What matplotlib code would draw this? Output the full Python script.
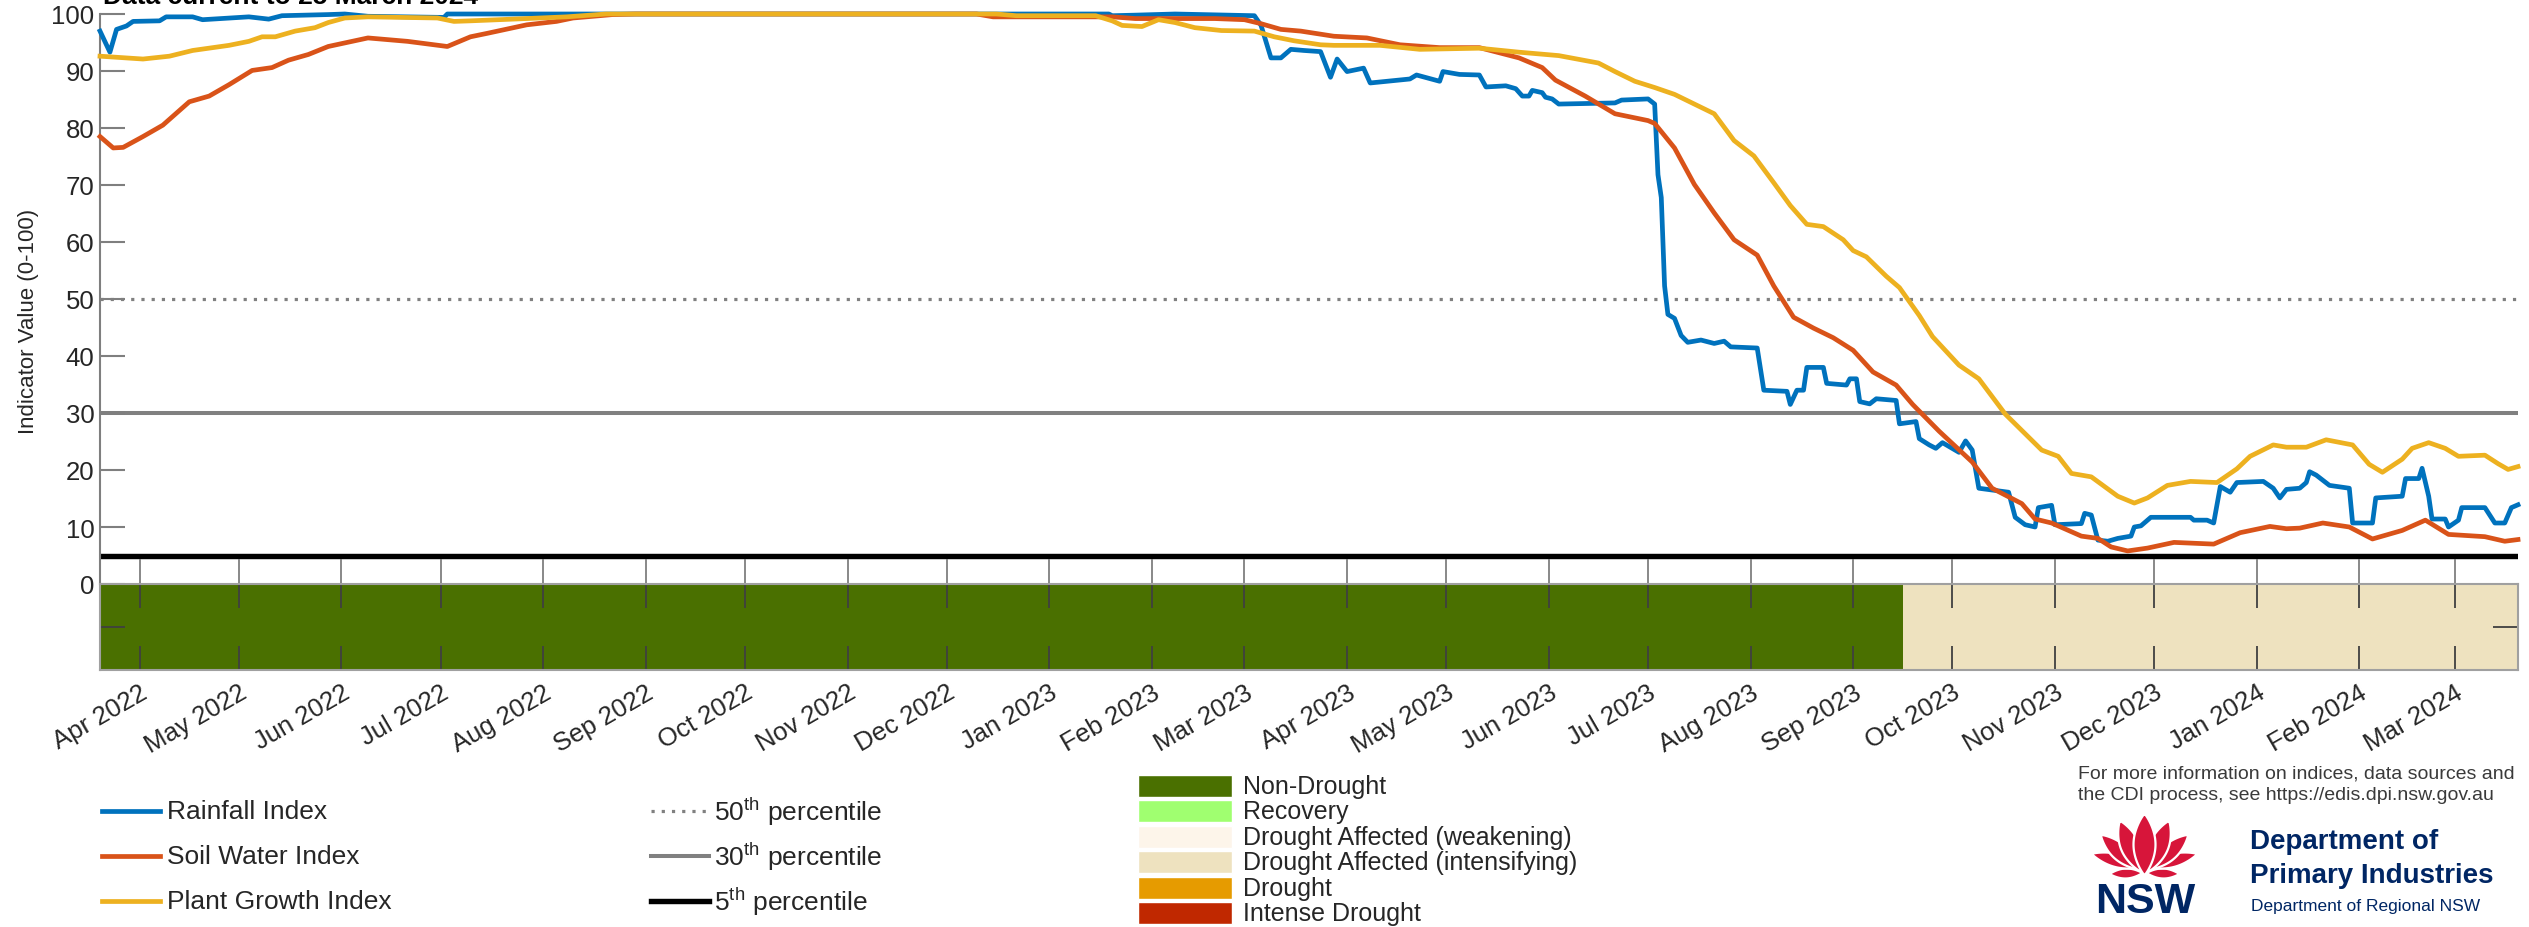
import numpy as np
import matplotlib
matplotlib.use("Agg")
import matplotlib.pyplot as plt
import matplotlib.dates as mdates
from matplotlib.lines import Line2D
from matplotlib.patches import Rectangle, Polygon

plt.rcParams['font.family'] = ['Liberation Sans', 'DejaVu Sans']
plt.rcParams['mathtext.fontset'] = 'custom'
plt.rcParams['mathtext.rm'] = 'Liberation Sans'

# --------------------------------------------------------------------------
# data
# --------------------------------------------------------------------------
rain_dates = [
    '2022-03-20', '2022-03-23', '2022-03-25', '2022-03-28', '2022-03-30', '2022-04-07',
    '2022-04-09', '2022-04-17', '2022-04-20', '2022-05-04', '2022-05-10', '2022-05-14',
    '2022-05-28', '2022-06-02', '2022-06-09', '2022-07-02', '2022-07-03', '2023-01-19',
    '2023-01-20', '2023-01-27', '2023-02-08', '2023-03-04', '2023-03-06', '2023-03-09',
    '2023-03-12', '2023-03-15', '2023-03-19', '2023-03-24', '2023-03-27', '2023-03-29',
    '2023-04-01', '2023-04-06', '2023-04-08', '2023-04-20', '2023-04-22', '2023-04-29',
    '2023-04-30', '2023-05-05', '2023-05-11', '2023-05-13', '2023-05-19', '2023-05-22',
    '2023-05-24', '2023-05-26', '2023-05-27', '2023-05-30', '2023-05-31', '2023-06-02',
    '2023-06-04', '2023-06-21', '2023-06-23', '2023-07-01', '2023-07-03', '2023-07-04',
    '2023-07-05', '2023-07-06', '2023-07-07', '2023-07-09', '2023-07-11', '2023-07-13',
    '2023-07-17', '2023-07-21', '2023-07-24', '2023-07-26', '2023-08-03', '2023-08-05',
    '2023-08-12', '2023-08-13', '2023-08-15', '2023-08-17', '2023-08-18', '2023-08-23',
    '2023-08-24', '2023-08-30', '2023-08-31', '2023-09-02', '2023-09-03', '2023-09-06',
    '2023-09-08', '2023-09-14', '2023-09-15', '2023-09-20', '2023-09-21', '2023-09-24',
    '2023-09-26', '2023-09-28', '2023-10-03', '2023-10-05', '2023-10-07', '2023-10-09',
    '2023-10-18', '2023-10-20', '2023-10-23', '2023-10-26', '2023-10-27', '2023-10-31',
    '2023-11-01', '2023-11-09', '2023-11-10', '2023-11-12', '2023-11-14', '2023-11-17',
    '2023-11-20', '2023-11-24', '2023-11-25', '2023-11-27', '2023-11-30', '2023-12-12',
    '2023-12-13', '2023-12-17', '2023-12-19', '2023-12-21', '2023-12-24', '2023-12-26',
    '2024-01-03', '2024-01-06', '2024-01-08', '2024-01-10', '2024-01-14', '2024-01-16',
    '2024-01-17', '2024-01-19', '2024-01-23', '2024-01-29', '2024-01-30', '2024-02-05',
    '2024-02-06', '2024-02-14', '2024-02-15', '2024-02-19', '2024-02-20', '2024-02-22',
    '2024-02-23', '2024-02-27', '2024-02-28', '2024-03-02', '2024-03-03', '2024-03-10',
    '2024-03-13', '2024-03-16', '2024-03-18', '2024-03-20',
]
rain_values = [
    97.0, 93.3, 97.3, 97.9, 98.7, 98.8,
    99.5, 99.5, 99.0, 99.5, 99.1, 99.7,
    99.9, 100, 99.6, 99.4, 100, 100,
    99.7, 99.8, 100, 99.7, 98.0, 92.3,
    92.3, 93.8, 93.6, 93.4, 88.9, 92.1,
    89.9, 90.5, 87.9, 88.6, 89.3, 88.2,
    89.9, 89.4, 89.3, 87.2, 87.4, 86.9,
    85.6, 85.6, 86.6, 86.2, 85.4, 85.1,
    84.2, 84.4, 84.9, 85.1, 84.2, 71.8,
    67.8, 52.3, 47.3, 46.6, 43.6, 42.4,
    42.8, 42.2, 42.6, 41.6, 41.4, 34.0,
    33.8, 31.5, 34.0, 34.0, 38.0, 38.0,
    35.2, 34.9, 36.0, 36.0, 32.0, 31.6,
    32.5, 32.2, 28.1, 28.5, 25.5, 24.4,
    23.8, 24.8, 23.1, 25.1, 23.5, 16.8,
    16.1, 11.7, 10.4, 10.0, 13.4, 13.8,
    10.4, 10.6, 12.4, 12.1, 7.7, 7.5,
    8.0, 8.4, 10.0, 10.2, 11.7, 11.7,
    11.2, 11.2, 10.7, 17.1, 16.1, 17.8,
    18.0, 16.8, 15.1, 16.6, 16.8, 17.8,
    19.7, 19.1, 17.3, 16.8, 10.7, 10.7,
    15.1, 15.4, 18.5, 18.5, 20.3, 15.4,
    11.4, 11.4, 10.0, 11.2, 13.4, 13.4,
    10.7, 10.7, 13.4, 13.9,
]

soil_dates = [
    '2022-03-20', '2022-03-24', '2022-03-27', '2022-04-02', '2022-04-08', '2022-04-16',
    '2022-04-22', '2022-04-28', '2022-05-05', '2022-05-11', '2022-05-16', '2022-05-22',
    '2022-05-28', '2022-06-09', '2022-06-21', '2022-07-03', '2022-07-10', '2022-07-15',
    '2022-07-27', '2022-08-05', '2022-08-10', '2022-08-22', '2022-08-29', '2022-12-10',
    '2022-12-15', '2023-01-20', '2023-01-27', '2023-02-20', '2023-03-01', '2023-03-06',
    '2023-03-12', '2023-03-18', '2023-03-28', '2023-04-07', '2023-04-17', '2023-04-29',
    '2023-05-11', '2023-05-23', '2023-05-30', '2023-06-03', '2023-06-12', '2023-06-21',
    '2023-07-01', '2023-07-03', '2023-07-09', '2023-07-15', '2023-07-21', '2023-07-27',
    '2023-08-03', '2023-08-08', '2023-08-14', '2023-08-20', '2023-08-26', '2023-09-01',
    '2023-09-07', '2023-09-14', '2023-09-19', '2023-09-27', '2023-10-07', '2023-10-13',
    '2023-10-22', '2023-10-26', '2023-10-31', '2023-11-09', '2023-11-14', '2023-11-18',
    '2023-11-23', '2023-11-29', '2023-12-07', '2023-12-19', '2023-12-27', '2024-01-05',
    '2024-01-10', '2024-01-14', '2024-01-21', '2024-01-29', '2024-02-05', '2024-02-14',
    '2024-02-21', '2024-02-28', '2024-03-10', '2024-03-16', '2024-03-20',
]
soil_values = [
    78.5, 76.5, 76.6, 78.5, 80.5, 84.6,
    85.6, 87.6, 90.1, 90.6, 91.9, 92.9,
    94.3, 95.8, 95.2, 94.3, 96.0, 96.6,
    98.1, 98.7, 99.3, 99.9, 100, 100,
    99.5, 99.5, 99.2, 99.2, 99.0, 98.3,
    97.3, 97.0, 96.1, 95.8, 94.6, 94.1,
    94.1, 92.3, 90.6, 88.4, 85.6, 82.5,
    81.3, 80.8, 76.5, 70.1, 65.1, 60.4,
    57.7, 52.3, 46.8, 44.9, 43.2, 41.0,
    37.2, 34.9, 31.5, 26.8, 21.4, 16.8,
    14.1, 11.4, 10.7, 8.4, 8.0, 6.5,
    5.8, 6.3, 7.3, 7.0, 9.0, 10.1,
    9.7, 9.8, 10.7, 10.0, 7.9, 9.4,
    11.2, 8.7, 8.3, 7.5, 7.8,
]

plant_dates = [
    '2022-03-20', '2022-04-02', '2022-04-10', '2022-04-17', '2022-04-28', '2022-05-04',
    '2022-05-08', '2022-05-12', '2022-05-18', '2022-05-24', '2022-05-28', '2022-06-02',
    '2022-06-09', '2022-06-30', '2022-07-05', '2022-07-10', '2022-07-27', '2022-08-08',
    '2022-08-20', '2022-12-16', '2022-12-22', '2023-01-15', '2023-01-20', '2023-01-23',
    '2023-01-29', '2023-02-03', '2023-02-08', '2023-02-14', '2023-02-22', '2023-03-04',
    '2023-03-10', '2023-03-16', '2023-03-24', '2023-03-28', '2023-04-11', '2023-04-23',
    '2023-05-11', '2023-05-23', '2023-06-04', '2023-06-16', '2023-06-21', '2023-06-27',
    '2023-07-03', '2023-07-09', '2023-07-21', '2023-07-27', '2023-08-02', '2023-08-08',
    '2023-08-13', '2023-08-18', '2023-08-23', '2023-08-29', '2023-09-01', '2023-09-05',
    '2023-09-11', '2023-09-15', '2023-09-21', '2023-09-25', '2023-10-03', '2023-10-09',
    '2023-10-17', '2023-10-28', '2023-11-02', '2023-11-06', '2023-11-12', '2023-11-20',
    '2023-11-25', '2023-11-29', '2023-12-05', '2023-12-12', '2023-12-20', '2023-12-26',
    '2023-12-30', '2024-01-06', '2024-01-10', '2024-01-16', '2024-01-22', '2024-01-30',
    '2024-02-04', '2024-02-08', '2024-02-14', '2024-02-17', '2024-02-22', '2024-02-27',
    '2024-03-02', '2024-03-10', '2024-03-14', '2024-03-17', '2024-03-20',
]
plant_values = [
    92.6, 92.1, 92.6, 93.6, 94.5, 95.2,
    96.0, 96.0, 97.0, 97.6, 98.5, 99.3,
    99.5, 99.3, 98.7, 98.8, 99.2, 99.5,
    100, 100, 99.7, 99.7, 98.8, 98.0,
    97.8, 99.0, 98.5, 97.6, 97.1, 97.0,
    96.0, 95.3, 94.6, 94.5, 94.5, 93.8,
    94.0, 93.3, 92.7, 91.4, 89.9, 88.2,
    87.1, 85.9, 82.5, 77.8, 75.1, 70.4,
    66.4, 63.1, 62.7, 60.4, 58.5, 57.4,
    54.0, 52.0, 47.1, 43.4, 38.4, 36.0,
    29.8, 23.5, 22.4, 19.4, 18.8, 15.4,
    14.2, 15.1, 17.3, 18.0, 17.8, 20.2,
    22.4, 24.4, 24.0, 24.0, 25.3, 24.4,
    21.0, 19.6, 21.9, 23.8, 24.8, 23.8,
    22.4, 22.6, 21.1, 20.1, 20.6,
]

index_labels = ['Rainfall Index', 'Soil Water Index', 'Plant Growth Index']
index_colors = ['#0072BD', '#D95319', '#EDB120']

percentile_values = [50, 30, 5]
percentile_labels = ['50$^{\\mathrm{th}}$ percentile', '30$^{\\mathrm{th}}$ percentile',
                     '5$^{\\mathrm{th}}$ percentile']

category_labels = ['Non-Drought', 'Recovery', 'Drought Affected (weakening)',
                   'Drought Affected (intensifying)', 'Drought', 'Intense Drought']
category_colors = ['#4a7000', '#a0ff70', '#fdf5ea', '#eee2bf', '#e69b00', '#c02800']

# drought category periods shown in the strip
period_starts = ['2022-03-20', '2023-09-16']
period_ends = ['2023-09-16', '2024-03-20']
period_category = ['Non-Drought', 'Drought Affected (intensifying)']

x_start, x_end = '2022-03-20', '2024-03-20'

# --------------------------------------------------------------------------
W, H = 2529, 928


def fx(px):
    return px / W


def fy(py):
    return 1 - py / H


TXT = '#262626'
GRID = '#7f7f7f'

fig = plt.figure(figsize=(W / 100, H / 100), dpi=100)
ax = fig.add_axes([fx(100), fy(585), (2518 - 100) / W, (585 - 15) / H])
strip = fig.add_axes([fx(100), fy(671), (2518 - 100) / W, (671 - 585) / H], sharex=ax)

# percentile reference lines
pct_styles = [dict(color='#808080', lw=2.3, ls=(0, (1, 2.2))),
              dict(color='#808080', lw=2.9, ls='-'),
              dict(color='black', lw=3.9, ls='-')]
for v, st in zip(percentile_values, pct_styles):
    ax.axhline(v, zorder=1, **st)

series = [(rain_dates, rain_values), (soil_dates, soil_values), (plant_dates, plant_values)]
for (d, v), c in zip(series, index_colors):
    ax.plot(np.array(d, dtype='datetime64[D]'), v, color=c, lw=3.4, zorder=3,
            clip_on=False, solid_joinstyle='round')

ax.set_xlim(np.datetime64(x_start), np.datetime64(x_end))
ax.set_ylim(0, 100)
ax.set_yticks(np.arange(0, 101, 10))
ax.tick_params(axis='y', direction='in', length=18, width=1.5, color=GRID,
               labelsize=18.5, labelcolor=TXT, pad=4)
ax.tick_params(axis='x', direction='in', length=18, width=1.3, color=GRID,
               labelbottom=False)
for s in ['top', 'right', 'bottom']:
    ax.spines[s].set_visible(False)
ax.spines['left'].set_color(GRID)
ax.spines['left'].set_linewidth(1.5)

# drought category strip
cat_color = dict(zip(category_labels, category_colors))
for s0, s1, cat in zip(period_starts, period_ends, period_category):
    strip.axvspan(np.datetime64(s0), np.datetime64(s1), color=cat_color[cat], lw=0)
strip.set_ylim(0, 1)
strip.set_yticks([0, 0.5, 1])
strip.tick_params(axis='y', direction='in', left=True, right=True, length=18,
                  width=1.3, color='#404040', labelleft=False)
strip.tick_params(axis='x', direction='in', top=True, bottom=True, length=17,
                  width=1.3, color='#404040', labelsize=18.5, labelcolor=TXT, pad=7)
strip.xaxis.set_major_locator(mdates.MonthLocator())
strip.xaxis.set_major_formatter(mdates.DateFormatter('%b %Y'))
for lab in strip.get_xticklabels():
    lab.set_rotation(30)
    lab.set_ha('right')
    lab.set_rotation_mode('anchor')
for s in strip.spines.values():
    s.set_color('#a0a0a0')
    s.set_linewidth(1.5)

# title (cut off at the top, as in the source image) and y label
fig.text(fx(103), fy(4), 'Data current to 25 March 2024', fontsize=19,
         weight='bold', ha='left', va='baseline', color='black')
fig.text(fx(29), fy(321), 'Indicator Value (0-100)', rotation=90, fontsize=16,
         ha='center', va='center', color=TXT)

# index legend
rows = [812, 857, 902]
for y, lab, c in zip(rows, index_labels, index_colors):
    fig.add_artist(Line2D([fx(102), fx(160)], [fy(y), fy(y)], color=c, lw=3.4))
    fig.text(fx(167), fy(y), lab, fontsize=19, ha='left', va='center', color=TXT)

# percentile legend
for y, lab, st in zip(rows, percentile_labels, pct_styles):
    fig.add_artist(Line2D([fx(651), fx(709)], [fy(y), fy(y)], **st))
    fig.text(fx(714), fy(y), lab, fontsize=19, ha='left', va='center', color=TXT)

# category legend
for i, (lab, c) in enumerate(zip(category_labels, category_colors)):
    yc = 787 + i * 25.4
    fig.add_artist(Rectangle((fx(1138), fy(yc + 11)), 94 / W, 22 / H, facecolor=c,
                             edgecolor='white', lw=1, transform=fig.transFigure))
    fig.text(fx(1243), fy(yc), lab, fontsize=18, ha='left', va='center', color=TXT)

# info text
fig.text(fx(2078), fy(774), 'For more information on indices, data sources and',
         fontsize=14, ha='left', va='center', color='#3a3a3a')
fig.text(fx(2078), fy(796), 'the CDI process, see https://edis.dpi.nsw.gov.au',
         fontsize=14, ha='left', va='center', color='#3a3a3a')

# NSW logo: waratah
NAVY = '#002664'
RED = '#d7153a'
logo = fig.add_axes([fx(2092), fy(880), 105 / W, 65 / H])
logo.set_xlim(0, 105)
logo.set_ylim(0, 65)
logo.axis('off')


def leaf(base, tip, width, n=40):
    b = np.array(base, float)
    t = np.array(tip, float)
    d = t - b
    L = np.hypot(*d)
    u = d / L
    nrm = np.array([-u[1], u[0]])
    s = np.linspace(0, 1, n)
    half = width / 2 * np.sin(np.pi * s) ** 0.8
    along = np.outer(s * L, u)
    left = b + along + np.outer(half, nrm)
    right = b + along - np.outer(half, nrm)
    return np.vstack([left, right[::-1]])


petals = [
    ((50, 6), (18, 5), 10), ((55, 6), (87, 5), 10),
    ((48, 12), (0, 25), 13), ((57, 12), (105, 25), 13),
    ((46, 10), (9, 44), 16), ((59, 10), (96, 44), 16),
    ((48, 8), (28, 58), 19), ((57, 8), (77, 58), 19),
    ((52.5, 4), (52.5, 65), 22),
]
for base, tip, w in petals:
    logo.add_patch(Polygon(leaf(base, tip, w), closed=True, facecolor=RED,
                           edgecolor='white', lw=1.6))

fig.text(fx(2145), fy(913), 'NSW', fontsize=31, weight='bold', ha='center',
         va='baseline', color=NAVY)
fig.text(fx(2250), fy(842), 'Department of', fontsize=20, weight='bold',
         ha='left', va='center', color=NAVY)
fig.text(fx(2250), fy(876), 'Primary Industries', fontsize=20, weight='bold',
         ha='left', va='center', color=NAVY)
fig.text(fx(2251), fy(907), 'Department of Regional NSW', fontsize=12.5,
         ha='left', va='center', color=NAVY)

fig.savefig('out.png', dpi=100)
